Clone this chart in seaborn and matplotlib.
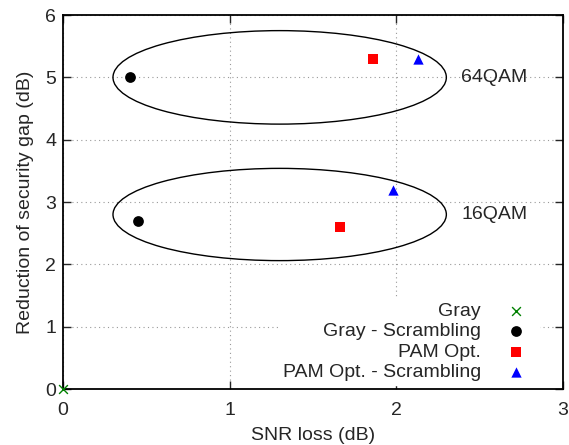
import matplotlib
matplotlib.use('Agg')
import matplotlib.pyplot as plt
from matplotlib.patches import Ellipse
import seaborn as sns
import pandas as pd

# Points (SNR loss, reduction of security gap)
gray_x = [0.0]
gray_y = [0.0]
gray_scr_x = [0.40, 0.45]
gray_scr_y = [5.0, 2.7]
pam_x = [1.86, 1.66]
pam_y = [5.3, 2.6]
pam_scr_x = [2.13, 1.98]
pam_scr_y = [5.3, 3.2]

# Group ellipses: label, centre, width, height
groups = ['64QAM', '16QAM']
group_cx = [1.3, 1.3]
group_cy = [5.0, 2.8]
group_w = [2.0, 2.0]
group_h = [1.5, 1.48]
label_x = [2.39, 2.39]

sns.set_style('ticks')
plt.rcParams['font.family'] = ['Liberation Sans', 'DejaVu Sans']
fs = 14

fig = plt.figure(figsize=(5.69, 4.45), dpi=100)
ax = fig.add_axes([0.1107, 0.1258, 0.8788, 0.8404])

series = [
    ('Gray', gray_x, gray_y, 'x', 'green', 40),
    ('Gray - Scrambling', gray_scr_x, gray_scr_y, 'o', 'black', 60),
    ('PAM Opt.', pam_x, pam_y, 's', 'red', 55),
    ('PAM Opt. - Scrambling', pam_scr_x, pam_scr_y, '^', 'blue', 55),
]
for name, xs, ys, mk, col, sz in series:
    df = pd.DataFrame({'x': xs, 'y': ys})
    if mk == 'x':
        sns.scatterplot(data=df, x='x', y='y', marker=mk, color=col, s=sz,
                        linewidth=1.0, label=name, ax=ax, clip_on=False, zorder=5)
    else:
        sns.scatterplot(data=df, x='x', y='y', marker=mk, color=col, s=sz,
                        linewidth=0, label=name, ax=ax, zorder=5)

for g, cx, cy, w, h, lx in zip(groups, group_cx, group_cy, group_w, group_h, label_x):
    ax.add_patch(Ellipse((cx, cy), w, h, fill=False, edgecolor='black', linewidth=1.0))
    ax.text(lx, cy, g, ha='left', va='center', fontsize=fs)

ax.set_xlim(0, 3)
ax.set_ylim(0, 6)
ax.set_xticks([0, 1, 2, 3])
ax.set_yticks(range(7))
ax.grid(True, linestyle=(0, (1, 3)), color='#999999', linewidth=0.8)
ax.set_axisbelow(True)
ax.tick_params(direction='in', top=True, right=True, length=6, width=1, labelsize=fs, pad=5)
ax.tick_params(axis='x', pad=9)
for sp in ax.spines.values():
    sp.set_linewidth(1.3)
    sp.set_color('black')
ax.set_xlabel('SNR loss (dB)', fontsize=fs, labelpad=6)
ax.set_ylabel('Reduction of security gap (dB)', fontsize=fs, labelpad=8)

leg = ax.legend(loc='lower right', markerfirst=False, frameon=True, fancybox=False,
                framealpha=1, edgecolor='white', fontsize=fs, handletextpad=0.8,
                labelspacing=0.15, borderaxespad=0.2, borderpad=0.2,
                bbox_to_anchor=(0.96, 0.0))
leg.set_zorder(4)

fig.savefig('out.png', dpi=100)
